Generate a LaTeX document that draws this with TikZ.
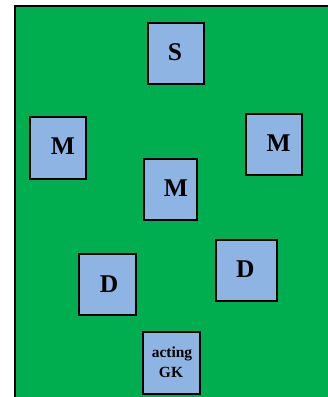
\documentclass[tikz,border=0pt]{standalone}
\usepackage{fontspec}
\setmainfont{Liberation Serif}
\definecolor{pitch}{RGB}{0,173,79}
\definecolor{shirt}{RGB}{142,180,227}
\tikzset{
  field/.style={fill=pitch, draw=black, line width=2pt},
  player/.style={draw=black, line width=2pt, fill=shirt, inner sep=0pt},
  role/.style={font=\fontsize{25.5}{28}\selectfont\bfseries, inner sep=0pt, anchor=base},
  small/.style={font=\fontsize{15.5}{18}\selectfont\bfseries, inner sep=0pt, anchor=base}
}
\begin{document}
\begin{tikzpicture}[x=1pt, y=-1pt]
  \clip (0,0) rectangle (328,397);
  \fill[white] (0,0) rectangle (328,397);
  % pitch
  \draw[field] (15,6) rectangle (345,415);
  % player boxes
  \node[player, minimum width=56pt, minimum height=61pt] (st) at (175.5,53.5) {};
  \node[player, minimum width=56pt, minimum height=62pt] (ml) at (58,148) {};
  \node[player, minimum width=56pt, minimum height=61pt] (mr) at (274,144) {};
  \node[player, minimum width=53pt, minimum height=61pt] (mc) at (170,189.3) {};
  \node[player, minimum width=57pt, minimum height=61pt] (dl) at (107.5,284) {};
  \node[player, minimum width=61pt, minimum height=61pt] (dr) at (246,270.7) {};
  \node[player, minimum width=57pt, minimum height=62pt] (gk) at (171.7,363.2) {};
  % labels
  \node[role] (stT) at (175,60.5) {S};
  \node[role] (mlT) at (63,154.3) {M};
  \node[role] (mrT) at (278.7,151.7) {M};
  \node[role] (mcT) at (176,196.7) {M};
  \node[role] (dlT) at (109,292) {D};
  \node[role] (drT) at (245.3,277.7) {D};
  \node[small] (gkT1) at (172,357.5) {acting};
  \node[small] (gkT2) at (171,377.7) {GK};
\end{tikzpicture}
\end{document}
